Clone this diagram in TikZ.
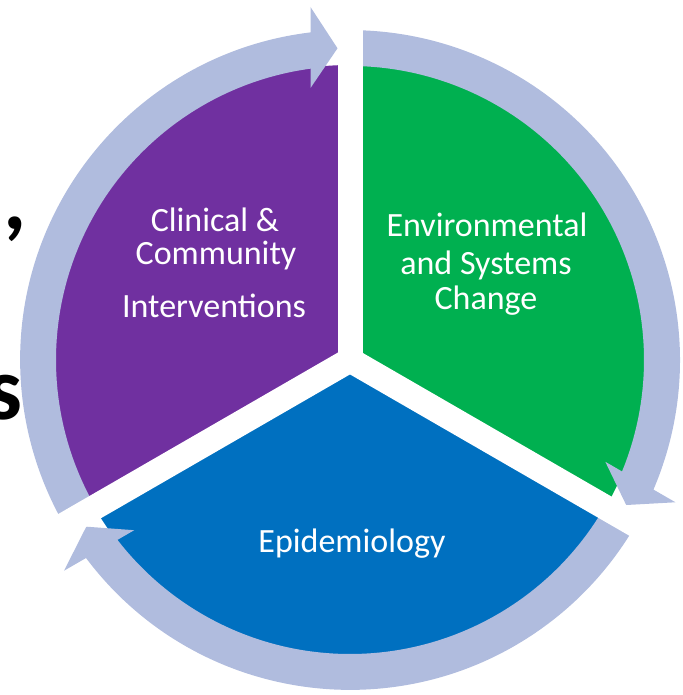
\documentclass[tikz,border=0pt]{standalone}
\usepackage{fontspec}
\setmainfont{Carlito}
\definecolor{purp}{HTML}{7030A0}
\definecolor{grn}{HTML}{00B050}
\definecolor{blu}{HTML}{0070C0}
\definecolor{ringc}{HTML}{B0BCDE}
\tikzset{
  lbl/.style={text=white, inner sep=0pt, anchor=base, font=\fontsize{34}{40}\selectfont},
  frag/.style={text=black, inner sep=0pt, font=\bfseries\fontsize{90}{100}\selectfont},
  ringpiece/.style={fill=ringc},
  gapstrip/.style={fill=white}
}
\newcommand{\ringarrow}{%
  (-39.5,327.6) arc[start angle=96.9,end angle=212,radius=330]
  -- (212:294) arc[start angle=212,end angle=97.7,radius=294]
  -- (-39.5,291.3) -- (-39.5,272) -- (-12.5,311.7) -- (-39.5,353) -- cycle}
\begin{document}
\begin{tikzpicture}[x=1pt,y=1pt]
\useasboundingbox (0,0) rectangle (682,695);
\begin{scope}[shift={(350,335)}]
  \coordinate (C) at (0,0);
  % sectors
  \fill[purp] (C) -- (90:295) arc[start angle=90,end angle=210,radius=295] -- cycle;
  \fill[grn]  (C) -- (-30:295) arc[start angle=-30,end angle=90,radius=295] -- cycle;
  \fill[blu]  (C) -- (210:295) arc[start angle=210,end angle=330,radius=295] -- cycle;
  % ring with arrows
  \fill[ringpiece] \ringarrow;
  \fill[ringpiece, rotate=120] \ringarrow;
  \fill[ringpiece, rotate=240] \ringarrow;
  % gaps
  \fill[gapstrip] (-12.5,0) rectangle (12.5,375);
  \fill[gapstrip, rotate=120] (-12.5,0) rectangle (12.5,375);
  \fill[gapstrip, rotate=240] (-12.5,0) rectangle (12.5,375);
\end{scope}
% labels
\node[lbl] (c1) at (215,463) {Clinical \&};
\node[lbl] (c2) at (216,430) {Community};
\node[lbl] (c3) at (214,377) {Interventions};
\node[lbl] (e1) at (487,458) {Environmental};
\node[lbl] (e2) at (486,420) {and Systems};
\node[lbl] (e3) at (486,385) {Change};
\node[lbl] (ep) at (352,142) {Epidemiology};
% cut-off fragments at left edge (cut off in the reference too)
\node[frag, anchor=base west] (f1) at (3,465) {,};
\node[frag, anchor=base east] (f2) at (23,275) {s};
\end{tikzpicture}
\end{document}
